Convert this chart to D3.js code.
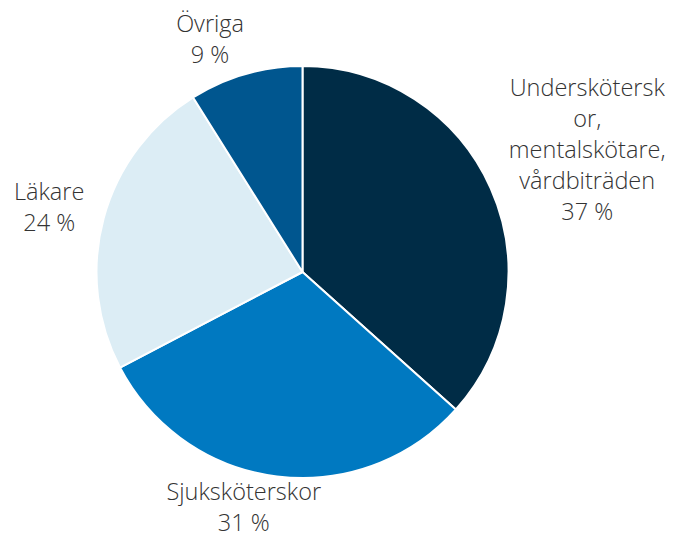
<!DOCTYPE html>
<html>
<head>
<meta charset="utf-8">
<script src="https://cdn.jsdelivr.net/npm/d3@7"></script>
<style>
  body { margin: 0; background: #fff; }
  text { font-family: "Open Sans", sans-serif; fill: #333; font-weight: 300; }
</style>
</head>
<body>
<div id="chart"></div>
<script>
// data
var categories = ["Undersköterskor, mentalskötare, vårdbiträden", "Sjuksköterskor", "Läkare", "Övriga"];
var shares = [37, 31, 24, 9];
// label text wrapped the way the original wraps it
var labelLines = [
    ["Undersköterskor".slice(0, 13), "or,", "mentalskötare,", "vårdbiträden"],
    ["Sjuksköterskor"],
    ["Läkare"],
    ["Övriga"]
];
var colors = ["#002c46", "#0079c1", "#dcedf5", "#00568f"];

var width = 677, height = 536;
var cx = 302.5, cy = 272, radius = 206;
var fontSize = 23.5, lineH = 31;

var svg = d3.select("#chart").append("svg")
    .attr("width", width)
    .attr("height", height);
var g = svg.append("g")
    .attr("transform", "translate(" + cx + "," + cy + ")");

var data = categories.map(function(c, i) {
    return {name: c, value: shares[i], lines: labelLines[i].concat([shares[i] + " %"]), color: colors[i]};
});

var pie = d3.pie().sort(null).value(function(d) { return d.value; });
var arc = d3.arc().innerRadius(0).outerRadius(radius);
var arcs = pie(data);

g.selectAll("path.slice")
    .data(arcs)
    .enter().append("path")
    .attr("class", "slice")
    .attr("d", arc)
    .attr("fill", function(d) { return d.data.color; })
    .attr("stroke", "#fff")
    .attr("stroke-width", 2)
    .attr("stroke-linejoin", "round");

// labels: box hung off a point just outside the rim
var labels = g.selectAll("text.label")
    .data(arcs)
    .enter().append("text")
    .attr("class", "label")
    .attr("text-anchor", "middle")
    .style("font-size", fontSize + "px");

labels.each(function(d) {
    var t = d3.select(this);
    d.data.lines.forEach(function(l) {
        t.append("tspan").text(l);
    });
    var w = d3.max(t.selectAll("tspan").nodes(), function(n) { return n.getComputedTextLength(); });
    var h = d.data.lines.length * lineH;
    var a = (d.startAngle + d.endAngle) / 2;
    var s = Math.sin(a), c = Math.cos(a);
    var r = radius + 20;
    var ax = s * r, ay = -c * r;
    var bx = ax + Math.sign(s) * (w / 2) * Math.min(1, 3.2 * Math.abs(s));
    var by = ay - 0.22 * c * h - 0.15 * (h - 2 * lineH) - 2.5;
    var top = by - h / 2;
    t.selectAll("tspan")
        .attr("x", bx)
        .attr("y", function(l, i) { return top + i * lineH + lineH / 2; })
        .attr("dy", "0.35em");
});
</script>
</body>
</html>
